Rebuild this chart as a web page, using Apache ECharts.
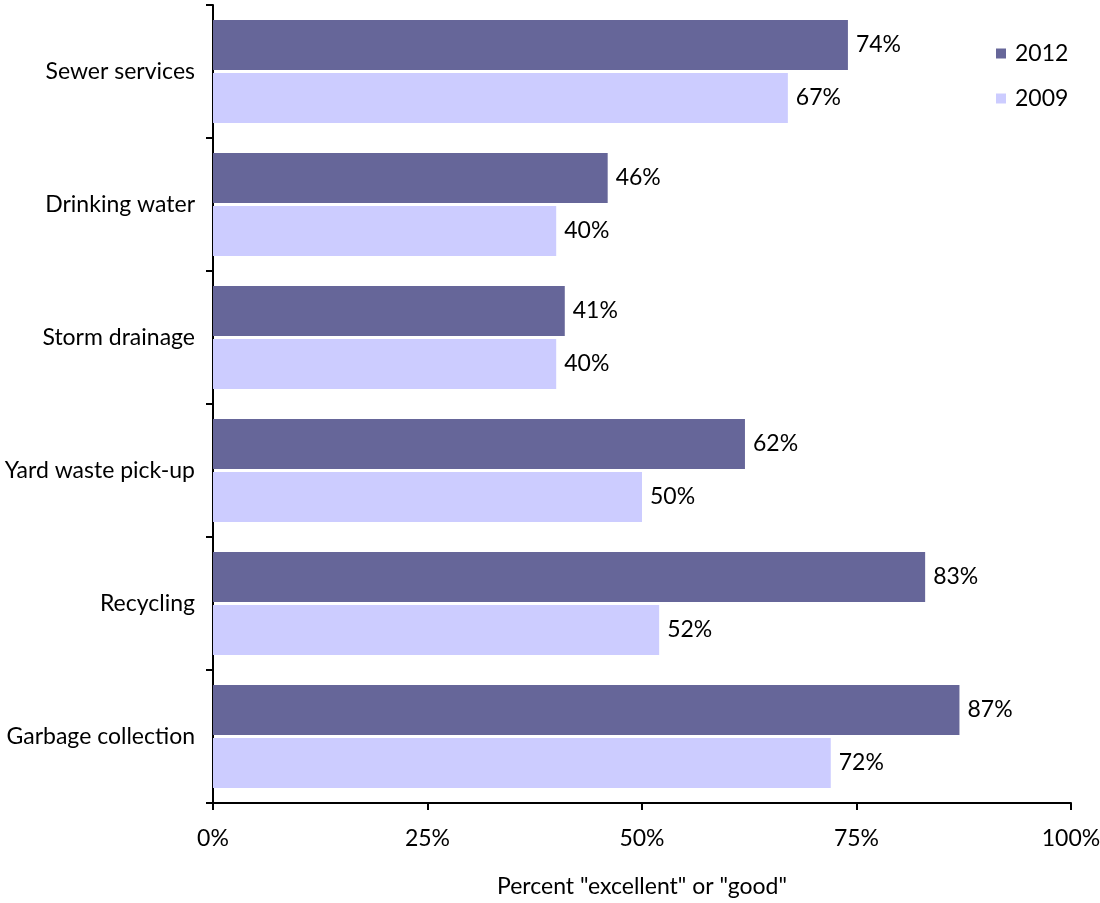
<!DOCTYPE html>
<html>
<head>
<meta charset="utf-8">
<script src="https://cdn.jsdelivr.net/npm/echarts@6/dist/echarts.min.js"></script>
<style>
  html, body { margin: 0; padding: 0; background: #fff; }
  #chart { width: 1100px; height: 903px; }
</style>
</head>
<body>
<div id="chart"></div>
<script>
// Services rated, listed top to bottom
const categories = ['Sewer services', 'Drinking water', 'Storm drainage', 'Yard waste pick-up', 'Recycling', 'Garbage collection'];
// Percent "excellent" or "good"
const values2012 = [74, 46, 41, 62, 83, 87];
const values2009 = [67, 40, 40, 50, 52, 72];
const xTicks = [0, 25, 50, 75, 100];

const FONT = 'Lato, "Open Sans", sans-serif';
const FS = 23;
const chart = echarts.init(document.getElementById('chart'), null, { renderer: 'canvas' });

const labelStyle = {
  show: true,
  position: 'right',
  distance: 8,
  color: '#000',
  fontSize: FS,
  fontFamily: FONT,
  formatter: p => p.value + '%'
};

chart.setOption({
  animation: false,
  textStyle: { fontFamily: FONT },
  grid: { left: 213, right: 29, top: 5, bottom: 100, containLabel: false, outerBoundsMode: 'none' },
  legend: {
    orient: 'vertical',
    left: 991,
    top: 37,
    itemWidth: 10,
    itemHeight: 10,
    itemGap: 22,
    icon: 'rect',
    textStyle: { fontSize: FS, color: '#000', fontFamily: FONT, padding: [0, 0, 0, 4] },
    data: ['2012', '2009']
  },
  xAxis: {
    type: 'value',
    min: xTicks[0],
    max: xTicks[xTicks.length - 1],
    interval: 25,
    name: 'Percent "excellent" or "good"',
    nameLocation: 'middle',
    nameGap: 72,
    nameTextStyle: { fontSize: FS, color: '#000', fontFamily: FONT },
    axisLine: { show: true, lineStyle: { color: '#000', width: 2 } },
    axisTick: { show: true, length: 7, lineStyle: { color: '#000', width: 2 } },
    axisLabel: { fontSize: FS, color: '#000', margin: 24, fontFamily: FONT, formatter: v => v + '%' },
    splitLine: { show: false }
  },
  yAxis: {
    type: 'category',
    inverse: true,
    data: categories,
    axisLine: { show: true, lineStyle: { color: '#000', width: 2 } },
    axisTick: { show: true, length: 7, alignWithLabel: false, lineStyle: { color: '#000', width: 2 } },
    axisLabel: { fontSize: FS, color: '#000', margin: 18, fontFamily: FONT }
  },
  series: [
    {
      name: '2012',
      type: 'bar',
      data: values2012,
      itemStyle: { color: '#666699' },
      barGap: '6%',
      barCategoryGap: '22.6%',
      label: labelStyle
    },
    {
      name: '2009',
      type: 'bar',
      data: values2009,
      itemStyle: { color: '#CCCCFF' },
      barGap: '6%',
      barCategoryGap: '22.6%',
      label: labelStyle
    }
  ]
});
</script>
</body>
</html>
